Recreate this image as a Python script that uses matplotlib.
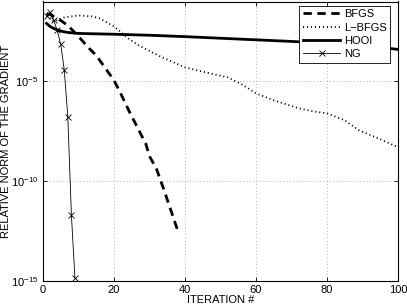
import numpy as np
import matplotlib
matplotlib.use("Agg")
import matplotlib.pyplot as plt
from matplotlib.ticker import FixedLocator, NullLocator

plt.rcParams['font.family'] = ['Liberation Sans', 'DejaVu Sans']
plt.rcParams['mathtext.fontset'] = 'custom'
plt.rcParams['mathtext.rm'] = 'Liberation Sans'

# BFGS (iteration, log10 value)
bfgs_it = [1, 2, 5, 7, 10, 13, 15, 17, 19, 20, 22, 24, 26, 27, 29, 30, 32, 34, 36, 38]
bfgs_lg = [-1.6, -1.65, -1.95, -2.2, -2.75, -3.35, -3.7, -4.2, -4.7, -4.95, -5.65, -6.4, -7.1, -7.45, -8.15, -8.75, -9.4, -10.4, -11.45, -12.5]

# L-BFGS
lbfgs_it = [1, 3, 6, 10, 14, 16, 20, 24, 27, 33, 40, 47, 52, 56, 60, 65, 72, 76, 80, 85, 89, 95, 100]
lbfgs_lg = [-1.7, -2.0, -1.8, -1.7, -1.75, -1.85, -2.25, -2.85, -3.2, -3.75, -4.3, -4.6, -4.8, -5.15, -5.6, -5.95, -6.35, -6.5, -6.6, -6.95, -7.45, -7.9, -8.3]

# HOOI
hooi_it = [1, 2, 3, 4, 5, 6, 7, 8, 10, 15, 20, 30, 40, 50, 60, 70, 80, 85, 90, 95, 100]
hooi_lg = [-2.1, -2.25, -2.35, -2.42, -2.48, -2.52, -2.55, -2.57, -2.6, -2.62, -2.64, -2.69, -2.76, -2.84, -2.92, -3.0, -3.08, -3.12, -3.2, -3.3, -3.4]

# NG
ng_it = [1, 2, 3, 4, 5, 6, 7, 8, 9]
ng_lg = [-1.75, -1.55, -1.95, -2.45, -3.15, -4.45, -6.8, -11.7, -14.85]

xticks = [0, 20, 40, 60, 80, 100]
yticks = [1e-15, 1e-10, 1e-5]
ytick_labels = [r'$10^{-15}$', r'$10^{-10}$', r'$10^{-5}$']

fig = plt.figure(figsize=(4.07, 3.08), dpi=100)
ax = fig.add_axes([43/407, 27/308, 355/407, 279.5/308])

ax.semilogy(bfgs_it, 10.0**np.array(bfgs_lg), color='black', lw=2.0,
            linestyle=(0, (3.0, 2.0)), label='BFGS')
ax.semilogy(lbfgs_it, 10.0**np.array(lbfgs_lg), color='black', lw=1.3,
            linestyle=(0, (0.6, 1.6)), label='L\u2212BFGS')
ax.semilogy(hooi_it, 10.0**np.array(hooi_lg), color='black', lw=2.0,
            linestyle='-', label='HOOI')
ax.semilogy(ng_it, 10.0**np.array(ng_lg), color='black', lw=0.6,
            marker='x', markersize=4, markeredgewidth=0.6, label='NG')

ax.set_xlim(0, 100)
ax.set_ylim(1e-15, 1e-1)
ax.xaxis.set_major_locator(FixedLocator(xticks))
ax.yaxis.set_major_locator(FixedLocator(yticks))
ax.yaxis.set_minor_locator(NullLocator())
ax.set_yticklabels(ytick_labels)
ax.tick_params(direction='in', length=3, labelsize=8, width=0.6, top=True, right=True)
ax.tick_params(axis='x', pad=3)
ax.grid(True, which='major', color='#999999', linestyle=(0, (1, 3)), linewidth=0.6)
for s in ax.spines.values():
    s.set_linewidth(0.8)

ax.set_xlabel('ITERATION #', fontsize=8, labelpad=0)
ax.set_ylabel('RELATIVE NORM OF THE GRADIENT', fontsize=8, labelpad=0)

leg = ax.legend(loc='upper right', fontsize=8, frameon=True, fancybox=False,
                handlelength=3.4, handletextpad=0.3, borderpad=0.3, labelspacing=0.3,
                borderaxespad=0.0, bbox_to_anchor=(0.977, 0.984))
leg.get_frame().set_edgecolor('black')
leg.get_frame().set_linewidth(0.6)
leg.get_frame().set_alpha(1)

fig.savefig('out.png', dpi=100)
